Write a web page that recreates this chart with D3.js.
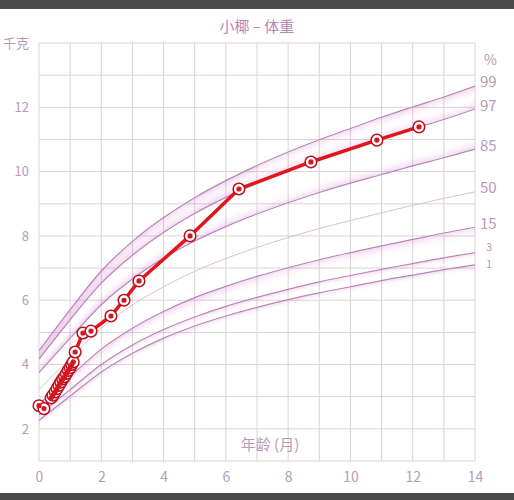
<!DOCTYPE html>
<html lang="zh">
<head>
<meta charset="utf-8">
<title>小椰 – 体重</title>
<script src="https://d3js.org/d3.v7.min.js"></script>
<style>
  body { margin: 0; background: #fff; }
  text { font-family: "Noto Sans CJK SC", "Noto Sans", sans-serif; }
</style>
</head>
<body>
<script>
// months 0..14
var months = [0, 1, 2, 3, 4, 5, 6, 7, 8, 9, 10, 11, 12, 13, 14];

// percentile curves (kg)
var p1  = [2.27, 3.02, 3.77, 4.35, 4.82, 5.20, 5.51, 5.78, 6.02, 6.23, 6.42, 6.61, 6.78, 6.95, 7.10];
var p3  = [2.44, 3.22, 4.00, 4.61, 5.09, 5.48, 5.81, 6.09, 6.34, 6.57, 6.77, 6.96, 7.14, 7.32, 7.48];
var p15 = [2.78, 3.63, 4.48, 5.13, 5.65, 6.08, 6.43, 6.74, 7.01, 7.26, 7.48, 7.69, 7.89, 8.09, 8.27];
var p50 = [3.23, 4.19, 5.13, 5.85, 6.42, 6.90, 7.30, 7.64, 7.95, 8.23, 8.48, 8.72, 8.95, 9.17, 9.37];
var p85 = [3.75, 4.82, 5.86, 6.66, 7.31, 7.84, 8.29, 8.68, 9.03, 9.35, 9.64, 9.91, 10.18, 10.43, 10.70];
var p97 = [4.17, 5.39, 6.53, 7.40, 8.11, 8.70, 9.20, 9.64, 10.03, 10.39, 10.72, 11.03, 11.33, 11.62, 11.95];
var p99 = [4.43, 5.71, 6.91, 7.83, 8.57, 9.19, 9.72, 10.19, 10.61, 10.99, 11.34, 11.69, 12.01, 12.32, 12.66];

// measurements: age (months) and weight (kg)
var ageM = [0.0, 0.16, 0.39, 0.45, 0.52, 0.58, 0.64, 0.70, 0.76, 0.82, 0.88, 0.94, 1.00, 1.05, 1.10,
            1.16, 1.41, 1.67, 2.31, 2.73, 3.21, 4.85, 6.42, 8.73, 10.85, 12.2];
var weightKg = [2.72, 2.63, 2.96, 3.05, 3.15, 3.25, 3.35, 3.45, 3.55, 3.62, 3.72, 3.82, 3.90, 4.00, 4.08,
                4.39, 4.98, 5.04, 5.51, 6.00, 6.60, 8.00, 9.46, 10.30, 10.98, 11.39];

var xTicks = [0, 2, 4, 6, 8, 10, 12, 14];
var yTicks = [2, 4, 6, 8, 10, 12];

var width = 514, height = 500;
var plotL = 39, plotR = 475, plotT = 43, plotB = 461;

var svg = d3.select("body").append("svg")
    .attr("width", width)
    .attr("height", height);

// phone status / bottom bars
svg.append("rect").attr("x", 0).attr("y", 0).attr("width", width).attr("height", 9).attr("fill", "#4a4a4a");
svg.append("rect").attr("x", 0).attr("y", 493).attr("width", width).attr("height", 7).attr("fill", "#4a4a4a");

var x = d3.scaleLinear().domain([0, 14]).range([plotL, plotR]);
var y = d3.scaleLinear().domain([1, 14]).range([plotB, plotT]);

var labelColor = "#b89ab8";
var gridColor = "#ddd0dc";

// grid
var grid = svg.append("g");
grid.selectAll("line.v")
    .data(d3.range(0, 15))
    .enter().append("line")
    .attr("class", "v")
    .attr("x1", function(d) { return x(d); })
    .attr("x2", function(d) { return x(d); })
    .attr("y1", plotT).attr("y2", plotB)
    .attr("stroke", gridColor).attr("stroke-width", 1);
grid.selectAll("line.h")
    .data(d3.range(1, 15))
    .enter().append("line")
    .attr("class", "h")
    .attr("x1", plotL).attr("x2", plotR)
    .attr("y1", function(d) { return y(d); })
    .attr("y2", function(d) { return y(d); })
    .attr("stroke", gridColor).attr("stroke-width", 1);

// axes (text only)
var xAxis = svg.append("g")
    .attr("transform", "translate(0," + (plotB + 16) + ")")
    .call(d3.axisBottom(x).tickValues(xTicks).tickSize(0).tickPadding(0));
xAxis.select(".domain").remove();
xAxis.selectAll("text")
    .attr("fill", labelColor)
    .attr("font-size", 14)
    .attr("dy", "0.35em");

var yAxis = svg.append("g")
    .attr("transform", "translate(29,0)")
    .call(d3.axisLeft(y).tickValues(yTicks).tickSize(0).tickPadding(0));
yAxis.select(".domain").remove();
yAxis.selectAll("text")
    .attr("fill", labelColor)
    .attr("font-size", 13);

svg.append("text")
    .attr("x", 16).attr("y", 48)
    .attr("text-anchor", "middle")
    .attr("fill", labelColor)
    .attr("font-size", 13)
    .text("千克");

svg.append("text")
    .attr("x", 270).attr("y", 450)
    .attr("text-anchor", "middle")
    .attr("fill", labelColor)
    .attr("font-size", 15)
    .text("年龄 (月)");

svg.append("text")
    .attr("x", 257).attr("y", 32)
    .attr("text-anchor", "middle")
    .attr("fill", "#b888b4")
    .attr("font-size", 15)
    .text("小椰 – 体重");

// percentile curves with soft shading on one side
var curves = [
  { name: "1",  values: p1,  side: 1,  depth: 6,  labelY: 264, size: 11 },
  { name: "3",  values: p3,  side: 1,  depth: 6,  labelY: 247, size: 11 },
  { name: "15", values: p15, side: 1,  depth: 12, labelY: 224, size: 15 },
  { name: "50", values: p50, side: 0,  depth: 0,  labelY: 188, size: 15 },
  { name: "85", values: p85, side: -1, depth: 12, labelY: 146, size: 15 },
  { name: "97", values: p97, side: -1, depth: 12, labelY: 106, size: 15 },
  { name: "99", values: p99, side: 1,  depth: 12, labelY: 82,  size: 15 }
];

svg.append("clipPath").attr("id", "plot")
    .append("rect").attr("x", plotL).attr("y", plotT)
    .attr("width", plotR - plotL).attr("height", plotB - plotT);

var pct = svg.append("g").attr("clip-path", "url(#plot)");

curves.forEach(function(c) {
  var line = d3.line()
      .x(function(d, i) { return x(months[i]); })
      .y(function(d) { return y(d); })
      .curve(d3.curveMonotoneX);
  for (var k = c.depth; k >= 1; k--) {
    pct.append("path")
        .attr("d", line(c.values))
        .attr("transform", "translate(0," + (c.side * k) + ")")
        .attr("fill", "none")
        .attr("stroke", "#d070c8")
        .attr("stroke-width", 1.2)
        .attr("stroke-opacity", 0.2 * Math.pow(1 - k / (c.depth + 1), 2));
  }
  pct.append("path")
      .attr("d", line(c.values))
      .attr("fill", "none")
      .attr("stroke", c.name === "50" ? "#d4b8d0" : "#b886b4")
      .attr("stroke-width", c.name === "50" ? 0.9 : 1.2);

  svg.append("text")
      .attr("x", c.size < 15 ? 486 : 480)
      .attr("y", c.labelY)
      .attr("dy", "0.35em")
      .attr("fill", labelColor)
      .attr("font-size", c.size)
      .text(c.name);
});

svg.append("text")
    .attr("x", 484).attr("y", 60)
    .attr("dy", "0.35em")
    .attr("fill", labelColor)
    .attr("font-size", 14)
    .text("%");

// measurements
var pts = ageM.map(function(a, i) { return [a, weightKg[i]]; });

svg.append("path")
    .datum(pts)
    .attr("d", d3.line()
        .x(function(d) { return x(d[0]); })
        .y(function(d) { return y(d[1]); }))
    .attr("fill", "none")
    .attr("stroke", "#e3151c")
    .attr("stroke-width", 3.5)
    .attr("stroke-linejoin", "round");

// rings first, then all centre dots so dense runs merge into one band
svg.append("g").selectAll("circle")
    .data(pts)
    .enter().append("circle")
    .attr("cx", function(d) { return x(d[0]); })
    .attr("cy", function(d) { return y(d[1]); })
    .attr("r", 5.8)
    .attr("fill", "#fff")
    .attr("stroke", "#b8101c")
    .attr("stroke-width", 1.5);

svg.append("g").selectAll("circle")
    .data(pts)
    .enter().append("circle")
    .attr("cx", function(d) { return x(d[0]); })
    .attr("cy", function(d) { return y(d[1]); })
    .attr("r", 2.6)
    .attr("fill", "#d8141e");
</script>
</body>
</html>
